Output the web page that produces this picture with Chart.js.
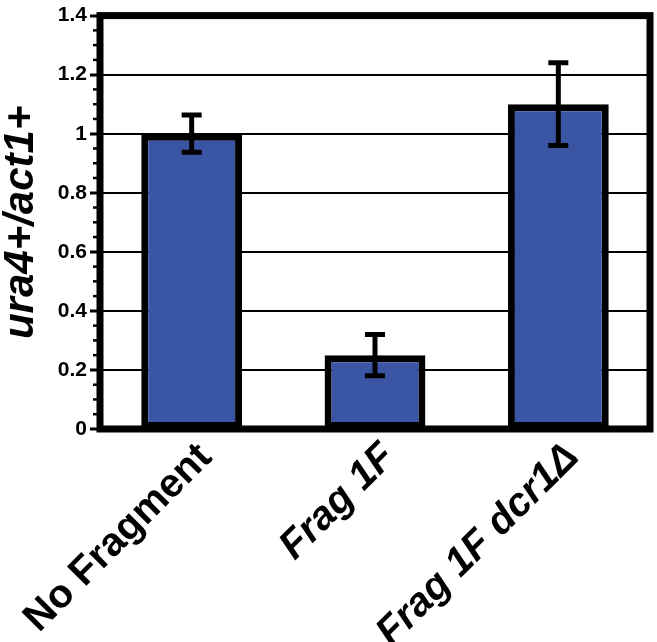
<!DOCTYPE html>
<html>
<head>
<meta charset="utf-8">
<script src="https://cdn.jsdelivr.net/npm/chart.js@4"></script>
<style>
  html, body { margin: 0; padding: 0; background: #fff; }
  #wrap { width: 657px; height: 642px; }
</style>
</head>
<body>
<div id="wrap"><canvas id="grafico" width="657" height="642"></canvas></div>
<script>
// dados
const categorias = ["No Fragment", "Frag 1F", "Frag 1F dcr1\u0394"];
const valores = [1.0, 0.25, 1.1];
const erros = [0.063, 0.07, 0.14];
const ticksY = [0, 0.2, 0.4, 0.6, 0.8, 1, 1.2, 1.4];

const FONTE = "'Liberation Sans', Arial, Helvetica, sans-serif";

// moldura preta grossa + ticks menores + barras de erro
const extras = {
  id: "extras",
  beforeDatasetsDraw(chart) {
    const { ctx } = chart;
    const y = chart.scales.y;
    const left = chart.chartArea.left;
    ctx.save();
    ctx.strokeStyle = "#000";
    ctx.lineWidth = 2.5;
    for (let i = 0; i <= 28; i++) {
      if (i % 4 === 0) continue;
      const py = y.getPixelForValue(i * 0.05);
      ctx.beginPath();
      ctx.moveTo(left - 7, py);
      ctx.lineTo(left, py);
      ctx.stroke();
    }
    ctx.restore();
  },
  afterDatasetsDraw(chart) {
    const { ctx, chartArea } = chart;
    const y = chart.scales.y;
    const meta = chart.getDatasetMeta(0);
    ctx.save();
    ctx.strokeStyle = "#000";
    ctx.lineCap = "butt";
    meta.data.forEach((bar, i) => {
      const top = y.getPixelForValue(valores[i] + erros[i]);
      const bot = y.getPixelForValue(valores[i] - erros[i]);
      ctx.lineWidth = 5;
      ctx.beginPath();
      ctx.moveTo(bar.x, top);
      ctx.lineTo(bar.x, bot);
      ctx.stroke();
      ctx.beginPath();
      ctx.moveTo(bar.x - 10, top);
      ctx.lineTo(bar.x + 10, top);
      ctx.moveTo(bar.x - 10, bot);
      ctx.lineTo(bar.x + 10, bot);
      ctx.stroke();
    });
    ctx.lineWidth = 7;
    ctx.strokeRect(chartArea.left, chartArea.top, chartArea.right - chartArea.left, chartArea.bottom - chartArea.top);
    ctx.restore();
  },
};

new Chart(document.getElementById("grafico"), {
  type: "bar",
  data: {
    labels: categorias,
    datasets: [
      {
        data: valores,
        backgroundColor: "#3b55a5",
        borderColor: "#000",
        borderWidth: 7,
        borderSkipped: false,
        categoryPercentage: 1,
        barPercentage: 0.55,
      },
    ],
  },
  options: {
    responsive: false,
    animation: false,
    devicePixelRatio: 1,
    layout: { padding: { top: 11, right: 7, left: 0, bottom: 0 } },
    plugins: {
      legend: { display: false },
      tooltip: { enabled: false },
    },
    scales: {
      x: {
        grid: { display: false, drawTicks: false },
        border: { display: false },
        ticks: {
          color: "#000",
          autoSkip: false,
          maxRotation: 45,
          minRotation: 45,
          padding: 5,
          labelOffset: 14,
          font: (c) => ({
            family: FONTE,
            size: 40,
            weight: "bold",
            style: c.index === 0 ? "normal" : "italic",
          }),
        },
        afterFit(scale) {
          scale.height = 213;
          scale.paddingLeft = 0;
          scale.paddingRight = 0;
        },
      },
      y: {
        min: 0,
        max: 1.4,
        afterBuildTicks(scale) {
          scale.ticks = ticksY.map((v) => ({ value: v }));
        },
        border: { display: false },
        grid: {
          color: "#000",
          lineWidth: (c) => (c.tick && (c.tick.value === 0 || c.tick.value === 1.4) ? 0 : 2),
          tickColor: "#000",
          tickWidth: 3,
          tickLength: 10,
        },
        ticks: {
          color: "#000",
          padding: 3,
          font: { family: FONTE, size: 21, weight: "bold" },
          callback: (v) => String(+v.toFixed(1)),
        },
        title: {
          display: true,
          text: "ura4+/act1+",
          color: "#000",
          padding: 0,
          font: { family: FONTE, size: 42, weight: "bold", style: "italic", lineHeight: 1 },
        },
        afterFit(scale) {
          scale.width = 100;
        },
      },
    },
  },
  plugins: [extras],
});
</script>
</body>
</html>
